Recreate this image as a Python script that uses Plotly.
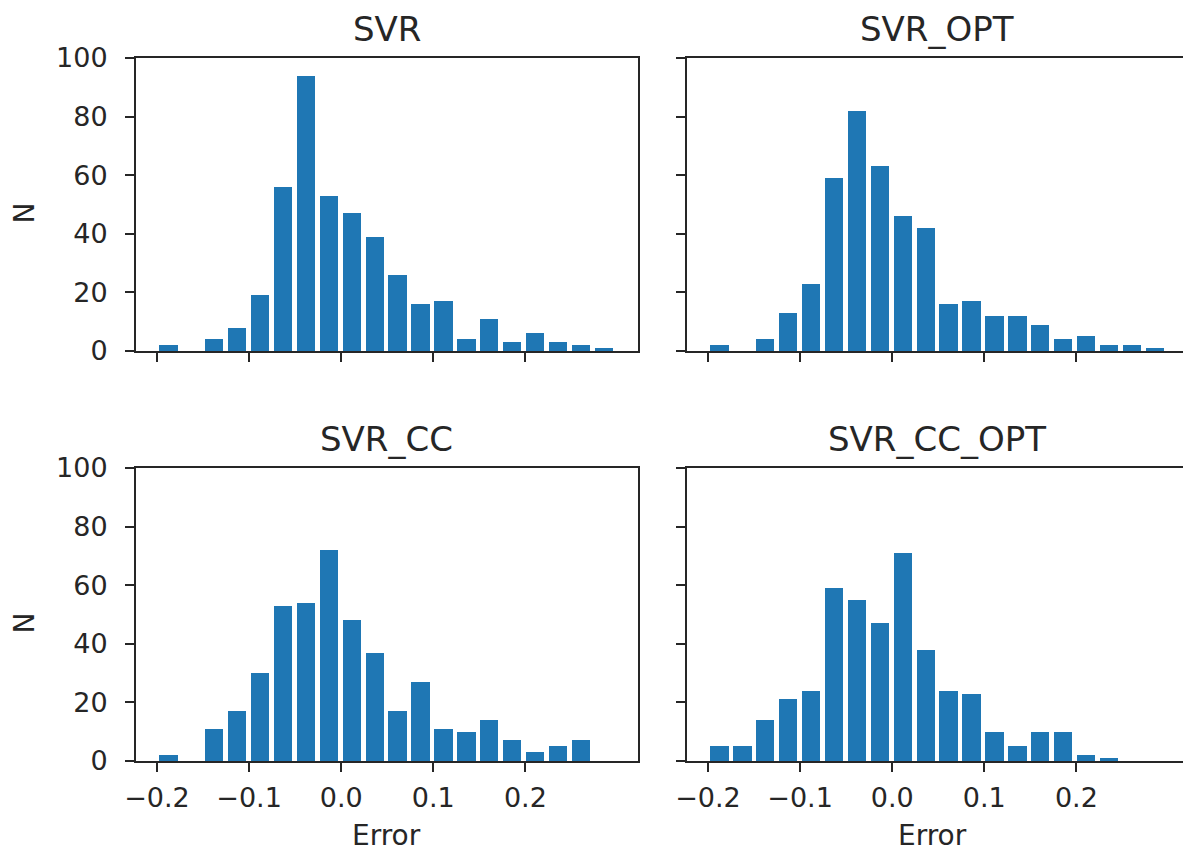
import plotly.graph_objects as go

# ---- data ----
BIN_START = -0.2
BIN_WIDTH = 0.02488
N_BINS = 20

svr_counts        = [2, 0, 4, 8, 19, 56, 94, 53, 47, 39, 26, 16, 17, 4, 11, 3, 6, 3, 2, 1]
svr_opt_counts    = [2, 0, 4, 13, 23, 59, 82, 63, 46, 42, 16, 17, 12, 12, 9, 4, 5, 2, 2, 1]
svr_cc_counts     = [2, 0, 11, 17, 30, 53, 54, 72, 48, 37, 17, 27, 11, 10, 14, 7, 3, 5, 7, 0]
svr_cc_opt_counts = [5, 5, 14, 21, 24, 59, 55, 47, 71, 38, 24, 23, 10, 5, 10, 10, 2, 1, 0, 0]

titles = ["SVR", "SVR_OPT", "SVR_CC", "SVR_CC_OPT"]
x_ticks = [-0.2, -0.1, 0.0, 0.1, 0.2]
x_tick_labels = ["\u22120.2", "\u22120.1", "0.0", "0.1", "0.2"]
y_ticks = [0, 20, 40, 60, 80, 100]
y_tick_labels = ["0", "20", "40", "60", "80", "100"]

# ---- layout ----
W, H = 1183, 854
BLUE = "#1f77b4"
AX = "#262626"
FONT = "DejaVu Sans"

centers = [BIN_START + (i + 0.5) * BIN_WIDTH for i in range(N_BINS)]
bar_w = BIN_WIDTH * 0.8

# pixel boxes: (left, right, top, bottom)
boxes = [(136, 638, 58, 351), (687, 1183, 58, 351),
         (136, 638, 468, 761), (687, 1183, 468, 761)]
X_LO = -0.2228
PX_PER_UNIT = 921.0
series = [svr_counts, svr_opt_counts, svr_cc_counts, svr_cc_opt_counts]

fig = go.Figure()
for i, (counts, (l, r, t, b)) in enumerate(zip(series, boxes)):
    n = "" if i == 0 else str(i + 1)
    fig.add_trace(go.Bar(x=centers, y=counts, width=bar_w,
                         marker=dict(color=BLUE, line=dict(width=0)),
                         xaxis="x" + n, yaxis="y" + n, showlegend=False))
    right_col = i % 2 == 1
    bottom_row = i >= 2
    x_hi = X_LO + (r - l) / PX_PER_UNIT
    fig.layout["xaxis" + n] = dict(
        domain=[l / W, r / W], anchor="y" + n, range=[X_LO, x_hi],
        tickvals=x_ticks, ticktext=x_tick_labels, showticklabels=bottom_row,
        ticks="outside", ticklen=9, tickwidth=2, tickcolor=AX,
        showline=True, linecolor=AX, linewidth=2, mirror=True,
        showgrid=False, zeroline=False, automargin=False,
        tickfont=dict(family=FONT, size=27, color=AX), ticklabelstandoff=3)
    fig.layout["yaxis" + n] = dict(
        domain=[1 - b / H, 1 - t / H], anchor="x" + n, range=[0, 100],
        tickvals=y_ticks, ticktext=y_tick_labels, showticklabels=not right_col,
        ticks="outside", ticklen=9, tickwidth=2, tickcolor=AX,
        showline=True, linecolor=AX, linewidth=2, mirror=not right_col,
        showgrid=False, zeroline=False, automargin=False,
        tickfont=dict(family=FONT, size=27, color=AX), ticklabelstandoff=12)
    cx = ((l + r) / 2 if not right_col else 937) / W
    fig.add_annotation(text=titles[i], xref="paper", yref="paper",
                       x=cx, y=1 - (t - 29) / H, showarrow=False,
                       font=dict(family=FONT, size=34, color=AX),
                       xanchor="center", yanchor="middle")
    if bottom_row:
        fig.add_annotation(text="Error", xref="paper", yref="paper",
                           x=(((l + r) / 2 if not right_col else 932)) / W,
                           y=1 - 835 / H, showarrow=False,
                           font=dict(family=FONT, size=28, color=AX),
                           xanchor="center", yanchor="middle")
    if not right_col:
        fig.add_annotation(text="N", xref="paper", yref="paper",
                           x=24 / W, y=1 - ((t + b) / 2 + 9) / H, showarrow=False,
                           textangle=-90,
                           font=dict(family=FONT, size=28, color=AX),
                           xanchor="center", yanchor="middle")

fig.update_layout(template="none", width=W, height=H,
                  margin=dict(l=0, r=0, t=0, b=0, pad=0, autoexpand=False),
                  paper_bgcolor="white", plot_bgcolor="white", bargap=0)
fig.write_html("out.html")
